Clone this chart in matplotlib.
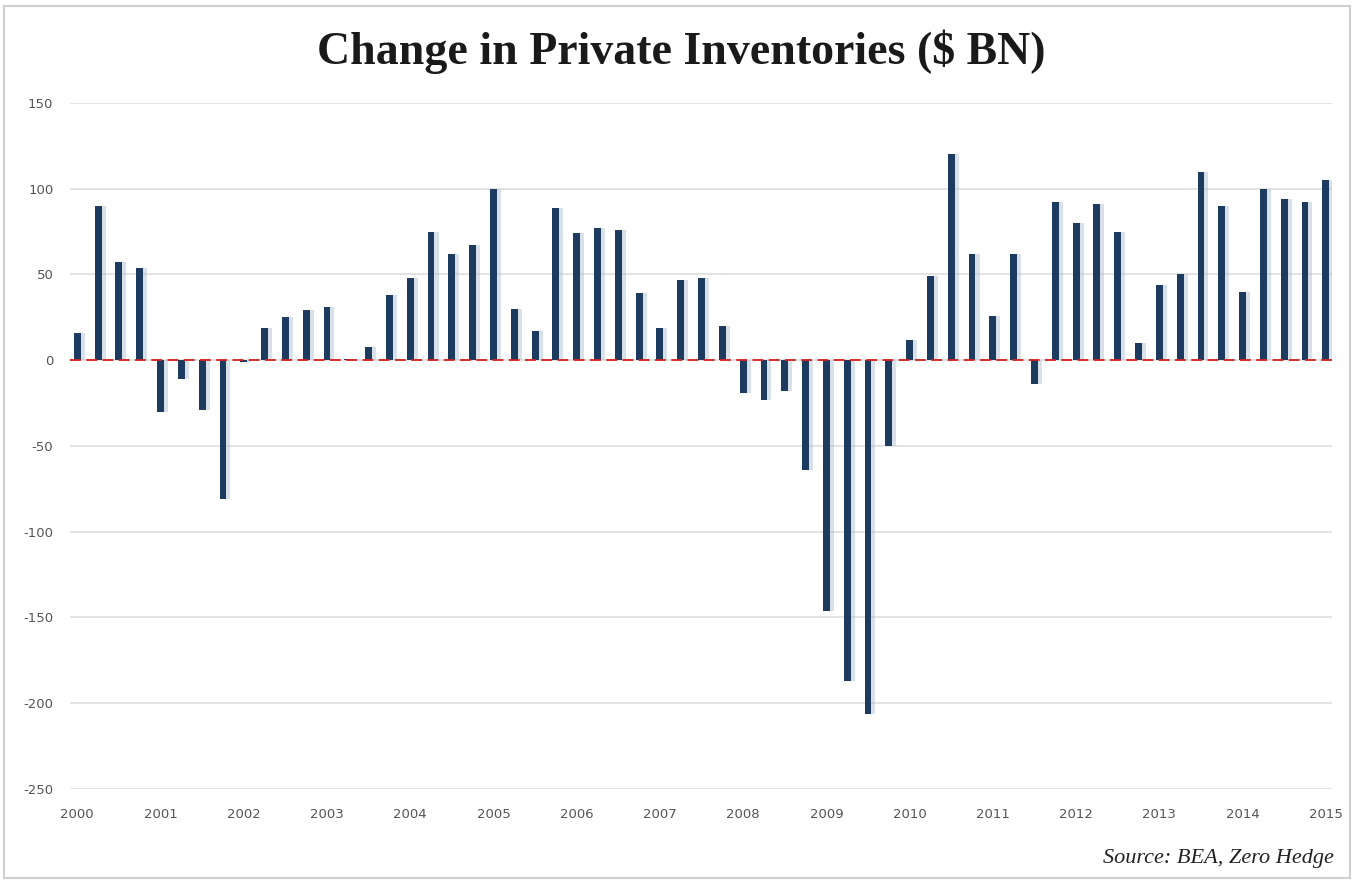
import numpy as np
import matplotlib
matplotlib.use("Agg")
from matplotlib import pyplot as plt
from matplotlib.patches import Rectangle


# quarterly change in private inventories, 2000 Q1 .. 2015 Q1
values = [16, 90, 57, 54,
          -30, -11, -29, -81,
          -1, 19, 25, 29,
          31, 1, 8, 38,
          48, 75, 62, 67,
          100, 30, 17, 89,
          74, 77, 76, 39,
          19, 47, 48, 20,
          -19, -23, -18, -64,
          -146, -187, -206, -50,
          12, 49, 120, 62,
          26, 62, -14, 92,
          80, 91, 75, 10,
          44, 50, 110, 90,
          40, 100, 94, 92,
          105]
years = [str(y) for y in range(2000, 2016)]
yticks = [150, 100, 50, 0, -50, -100, -150, -200, -250]

bar_color = "#1d3b5e"
shadow_color = "#a9bccf"

fig = plt.figure(figsize=(13.62, 8.84), dpi=100)
ax = fig.add_axes([0.0514, 0.1075, 0.9266, 0.776])

x = np.arange(len(values))
# soft drop shadow to the right of each bar
ax.bar(x + 0.2, values, width=0.32, color=shadow_color, alpha=0.45, zorder=2)
ax.bar(x, values, width=0.33, color=bar_color, zorder=3)
ax.axhline(0, color="#d62020", lw=1.3, linestyle=(0, (6, 3)), zorder=4)

ax.set_ylim(-250, 150)
ax.set_xlim(-0.35, 60.3)
ax.set_yticks(yticks)
ax.set_yticklabels([str(v) for v in yticks])
ax.set_xticks(np.arange(0, len(values), 4))
ax.set_xticklabels(years)
ax.grid(axis="y", color="#dedede", lw=1.2, zorder=0)
ax.tick_params(length=0, labelsize=9.5, labelcolor="#555555")
ax.tick_params(axis="y", pad=12)
ax.tick_params(axis="x", pad=14)
for s in ax.spines.values():
    s.set_visible(False)

fig.text(0.5, 0.941, "Change in Private Inventories ($ BN)", ha="center", va="center",
         family="Liberation Serif", fontsize=33, weight="bold", color="#1a1a1a")
fig.text(0.979, 0.029, "Source: BEA, Zero Hedge", ha="right", va="center",
         family="Liberation Serif", style="italic", fontsize=16, color="#222222")

# light frame around the whole picture
fig.patches.append(Rectangle((0.003, 0.007), 0.988, 0.986, transform=fig.transFigure,
                             fill=False, edgecolor="#d0d0d0", lw=1.5))

fig.savefig("out.png", dpi=100)
